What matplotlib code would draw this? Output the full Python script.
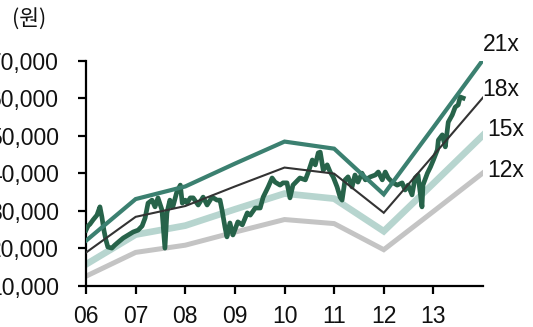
import matplotlib
matplotlib.use('Agg')
import matplotlib.pyplot as plt

plt.rcParams['font.family'] = ['Liberation Sans', 'Noto Sans CJK KR', 'DejaVu Sans']

# EPS nodes used for the PER band (won)
eps_years = [2006, 2007, 2008, 2009, 2010, 2011, 2012, 2013, 2014]
eps = [1051, 1580, 1740, 2030, 2310, 2220, 1640, 2490, 3348]
multiples = [21, 18, 15, 12]
band_labels = ['21x', '18x', '15x', '12x']
band_colors = ['#3b8070', '#333333', '#b7d5cf', '#c4c4c4']
band_widths = [3.0, 1.5, 4.8, 3.6]

# share price (won)
price_years = [
    2006.00, 2006.04, 2006.08, 2006.14, 2006.22, 2006.28, 2006.32, 2006.36, 2006.40, 2006.44,
    2006.52, 2006.58, 2006.65, 2006.75, 2006.85, 2006.95, 2007.05, 2007.13, 2007.19, 2007.25,
    2007.33, 2007.39, 2007.45, 2007.53, 2007.59, 2007.63, 2007.69, 2007.75, 2007.83, 2007.90,
    2007.94, 2008.00, 2008.04, 2008.10, 2008.16, 2008.26, 2008.36, 2008.44, 2008.54, 2008.64,
    2008.70, 2008.74, 2008.80, 2008.84, 2008.90, 2008.96, 2009.06, 2009.15, 2009.25, 2009.31,
    2009.41, 2009.51, 2009.57, 2009.67, 2009.75, 2009.81, 2009.91, 2009.97, 2010.05, 2010.11,
    2010.17, 2010.31, 2010.42, 2010.48, 2010.56, 2010.62, 2010.68, 2010.72, 2010.78, 2010.86,
    2010.92, 2010.98, 2011.06, 2011.12, 2011.16, 2011.22, 2011.28, 2011.36, 2011.42, 2011.48,
    2011.56, 2011.63, 2011.73, 2011.83, 2011.89, 2011.97, 2012.03, 2012.09, 2012.17, 2012.27,
    2012.37, 2012.43, 2012.49, 2012.57, 2012.63, 2012.69, 2012.77, 2012.79, 2012.88, 2012.94,
    2013.00, 2013.08, 2013.10, 2013.18, 2013.24, 2013.30, 2013.38, 2013.44, 2013.50, 2013.54,
    2013.60,
]
price = [
    24900, 26000, 26500, 27600, 28900, 31100, 28400, 24900, 22300, 20400,
    20100, 20900, 21700, 22800, 23600, 24400, 24900, 26000, 28100, 32100,
    32900, 31100, 33500, 30300, 20100, 29500, 32900, 31100, 35100, 36900,
    32100, 32900, 32100, 33500, 33500, 31600, 33700, 31600, 33700, 32900,
    32900, 30300, 25700, 23100, 26800, 23600, 27100, 26300, 29500, 28900,
    30800, 30800, 33700, 36400, 38800, 37700, 36900, 37500, 37500, 33500,
    36900, 38800, 38300, 40400, 43600, 42300, 45500, 45700, 40900, 42300,
    40400, 39100, 36400, 33700, 32900, 38300, 39100, 36400, 39600, 37700,
    40100, 38300, 39100, 39600, 40400, 38300, 40400, 38800, 37700, 36900,
    37500, 35600, 36900, 34300, 38800, 39600, 31100, 36900, 40100, 41700,
    43600, 46300, 48900, 50300, 47100, 53700, 55600, 57700, 58300, 60400,
    60100,
]

year_ticks = [2006, 2007, 2008, 2009, 2010, 2011, 2012, 2013]
year_labels = ['06', '07', '08', '09', '10', '11', '12', '13']
y_ticks = [10000, 20000, 30000, 40000, 50000, 60000, 70000]

fig = plt.figure(figsize=(5.33, 3.27), dpi=100)
ax = fig.add_axes([0.1614, 0.1254, 0.7448, 0.6881])

# draw order: light bands first, then price, then 21x / 18x lines
order = [3, 2, 0, 1]
for i in order[:2]:
    ax.plot(eps_years, [e * multiples[i] for e in eps], color=band_colors[i],
            lw=band_widths[i], solid_joinstyle='miter', zorder=2)
ax.plot(price_years, price, color='#27634a', lw=3.4, zorder=3)
for i in order[2:]:
    ax.plot(eps_years, [e * multiples[i] for e in eps], color=band_colors[i],
            lw=band_widths[i], solid_joinstyle='miter', zorder=4)

label_pos = [(2014.37, 74300), (2014.35, 62500), (2014.45, 51600), (2014.45, 40900)]
for lab, (lx, ly) in zip(band_labels, label_pos):
    ax.text(lx, ly, lab, fontsize=16.5, ha='center', va='center', clip_on=False,
            color='#111111')

ax.set_xlim(2006, 2014)
ax.set_ylim(10000, 70000)
ax.set_xticks(year_ticks)
ax.set_xticklabels(year_labels)
ax.set_yticks(y_ticks)
ax.set_yticklabels([f'{v:,}' for v in y_ticks])

for s in ['top', 'right']:
    ax.spines[s].set_visible(False)
for s in ['left', 'bottom']:
    ax.spines[s].set_linewidth(1.6)
    ax.spines[s].set_color('black')
ax.tick_params(axis='both', length=5.5, width=1.6, labelsize=16.5, colors='black',
               labelcolor='#111111')
ax.tick_params(axis='y', pad=14)
ax.tick_params(axis='x', pad=8)

fig.text(0.054, 0.939, '(원)', fontsize=15.5, ha='center', va='center',
         family=['Noto Sans CJK KR', 'DejaVu Sans'], color='#111111')

fig.savefig('out.png', dpi=100)
